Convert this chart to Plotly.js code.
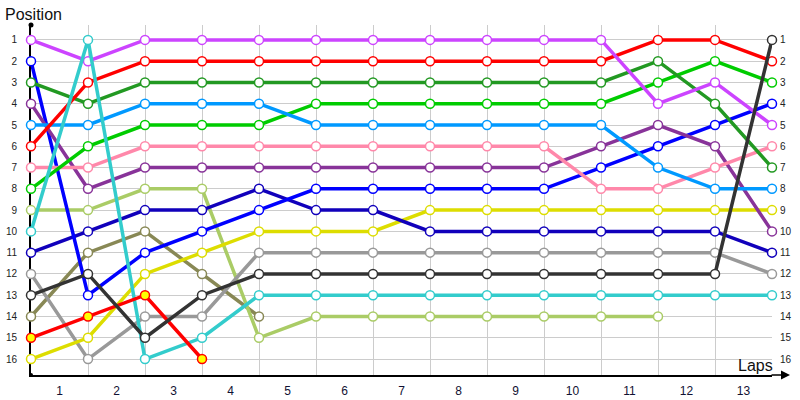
<!DOCTYPE html>
<html>
<head>
<meta charset="utf-8">
<script src="https://cdn.plot.ly/plotly-3.0.1.min.js"></script>
<style>html,body{margin:0;padding:0;background:#fff;}#chart{width:800px;height:400px;}</style>
</head>
<body>
<div id="chart"></div>
<script>
// Lap boundaries (x positions of the points)
const laps = [0,1,2,3,4,5,6,7,8,9,10,11,12,13];
const lapTickVals = [0.5,1.5,2.5,3.5,4.5,5.5,6.5,7.5,8.5,9.5,10.5,11.5,12.5];
const lapTickText = ['1','2','3','4','5','6','7','8','9','10','11','12','13'];
const positions = [1,2,3,4,5,6,7,8,9,10,11,12,13,14,15,16];

// Position of each driver at each lap boundary
const olive      = [14,11,10,12,14];
const lightGreen = [9,9,8,8,15,14,14,14,14,14,14,14];
const gray       = [12,16,14,14,11,11,11,11,11,11,11,11,11,12];
const yellow     = [16,15,12,11,10,10,10,9,9,9,9,9,9,9];
const darkBlue   = [11,10,9,9,8,9,9,10,10,10,10,10,10,11];
const blue       = [2,13,11,10,9,8,8,8,8,8,7,6,5,4];
const darkPurple = [4,8,7,7,7,7,7,7,7,7,6,5,6,10];
const pink       = [7,7,6,6,6,6,6,6,6,6,8,8,7,6];
const green      = [8,6,5,5,5,4,4,4,4,4,4,3,2,3];
const lightBlue  = [5,5,4,4,4,5,5,5,5,5,5,7,8,8];
const darkGreen  = [3,4,3,3,3,3,3,3,3,3,3,2,4,7];
const red        = [6,3,2,2,2,2,2,2,2,2,2,1,1,2];
const violet     = [1,2,1,1,1,1,1,1,1,1,1,4,3,5];
const cyan       = [10,1,16,15,13,13,13,13,13,13,13,13,13,13];
const redYellow  = [15,14,13,16];
const black      = [13,12,15,13,12,12,12,12,12,12,12,12,12,1];

function series(vals, color, fill) {
  return {
    type: 'scatter', mode: 'lines+markers', cliponaxis: false,
    x: laps.slice(0, vals.length), y: vals,
    line: {color: color, width: 3.5},
    marker: {symbol: 'circle', size: 9, color: fill || '#ffffff', line: {color: color, width: 1.5}},
    hoverinfo: 'skip', showlegend: false
  };
}

const data = [
  series(olive, '#888855'),
  series(lightGreen, '#aacc66'),
  series(gray, '#999999'),
  series(yellow, '#dddd00'),
  series(darkBlue, '#1100bb'),
  series(blue, '#0000ff'),
  series(darkPurple, '#883399'),
  series(pink, '#ff88aa'),
  series(green, '#00cc00'),
  series(lightBlue, '#0099ff'),
  series(darkGreen, '#229922'),
  series(red, '#ff0000'),
  series(violet, '#cc44ff'),
  series(cyan, '#33cccc'),
  series(redYellow, '#ff0000', '#ffff00'),
  series(black, '#333333'),
  {type: 'scatter', x: [null], y: [null], yaxis: 'y2', showlegend: false, hoverinfo: 'skip'}
];

const tickFont = {family: 'Liberation Sans, Arial, sans-serif', size: 10, color: '#222222'};
const yRange = [16.75, 0.3];

const layout = {
  width: 800, height: 400,
  margin: {l: 31, r: 28, t: 25, b: 25, pad: 0},
  paper_bgcolor: '#ffffff', plot_bgcolor: '#ffffff',
  showlegend: false,
  xaxis: {
    range: [0, 13], tickvals: lapTickVals, ticktext: lapTickText,
    showgrid: false, zeroline: false, ticks: '', layer: 'below traces',
    showline: true, linecolor: '#000000', linewidth: 2,
    tickfont: {family: 'Liberation Sans, Arial, sans-serif', size: 12, color: '#111133'},
    ticklabelstandoff: 4,
    minor: {tick0: 0, dtick: 1, showgrid: true, gridcolor: '#cccccc', gridwidth: 1, ticks: ''}
  },
  yaxis: {
    range: yRange, tickvals: positions, ticktext: positions.map(String),
    showgrid: true, gridcolor: '#cccccc', gridwidth: 1, zeroline: false, ticks: '',
    showline: true, linecolor: '#000000', linewidth: 2, layer: 'below traces',
    tickfont: tickFont, ticklabelstandoff: 10
  },
  yaxis2: {
    range: yRange, tickvals: positions, ticktext: positions.map(String),
    overlaying: 'y', anchor: 'free', position: 1, side: 'right',
    showgrid: false, zeroline: false, ticks: '', showline: false,
    tickfont: tickFont, ticklabelstandoff: 7
  },
  annotations: [
    {xref: 'paper', yref: 'paper', x: -0.0378, y: 1.0314, xanchor: 'left', yanchor: 'middle',
     text: 'Position', showarrow: false, font: {family: 'Liberation Sans, Arial, sans-serif', size: 16, color: '#111111'}},
    {xref: 'paper', yref: 'paper', x: 0.978, y: 0.027, xanchor: 'center', yanchor: 'middle',
     text: 'Laps', showarrow: false, font: {family: 'Liberation Sans, Arial, sans-serif', size: 16, color: '#111111'}},
    {xref: 'paper', yref: 'paper', x: 1.0243, y: 0, text: '', showarrow: true,
     ax: -20, ay: 0, arrowhead: 2, arrowsize: 1.2, arrowwidth: 1.5, arrowcolor: '#000000', standoff: 0, startstandoff: 0}
  ],
  shapes: [
    {type: 'circle', xref: 'paper', yref: 'paper', xsizemode: 'pixel', ysizemode: 'pixel',
     xanchor: 0, yanchor: 1, x0: -2.5, x1: 2.5, y0: -2.5, y1: 2.5, fillcolor: '#000000', line: {width: 0}},
    {type: 'circle', xref: 'paper', yref: 'paper', xsizemode: 'pixel', ysizemode: 'pixel',
     xanchor: 0, yanchor: 0, x0: -2, x1: 2, y0: -2, y1: 2, fillcolor: '#000000', line: {width: 0}}
  ]
};

Plotly.newPlot('chart', data, layout, {staticPlot: true, displayModeBar: false});
</script>
</body>
</html>
